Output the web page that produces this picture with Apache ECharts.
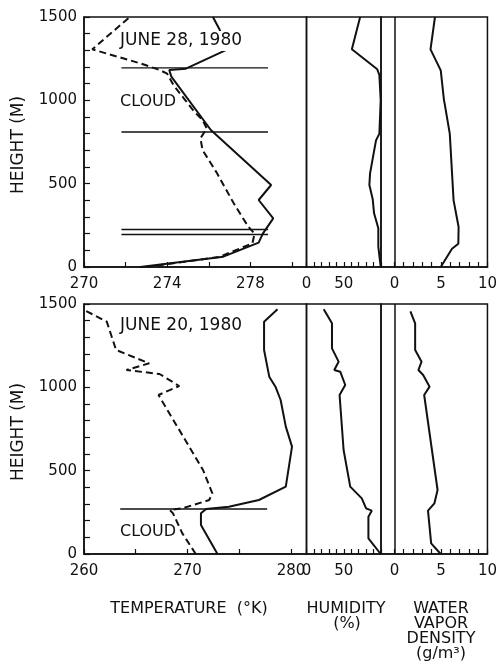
<!DOCTYPE html>
<html>
<head>
<meta charset="utf-8">
<script src="https://cdn.jsdelivr.net/npm/echarts@6/dist/echarts.min.js"></script>
<style>html,body{margin:0;padding:0;background:#fff}#c{width:500px;height:668px}</style>
</head>
<body>
<div id="c"></div>
<script>
// ---------- DATA ----------
// June 28, 1980 (top panel)
const jun28TempH   = [0, 62, 146, 200, 292, 402, 492, 822, 1142, 1182, 1190, 1306, 1430, 1500];
const jun28Temp    = [272.7, 276.7, 278.4, 278.6, 279.1, 278.4, 279.0, 276.1, 274.2, 274.1, 274.9, 276.9, 276.5, 276.2];
const jun28DewH    = [0, 60, 142, 200, 242, 382, 562, 702, 772, 832, 882, 932, 1012, 1092, 1160, 1184, 1222, 1306, 1500];
const jun28Dew     = [273.0, 276.5, 278.1, 278.2, 277.9, 277.2, 276.4, 275.7, 275.6, 275.9, 275.7, 275.3, 274.8, 274.3, 274.0, 273.6, 272.7, 270.4, 272.2];
const jun28RhH     = [0, 122, 232, 322, 406, 492, 562, 760, 800, 1000, 1152, 1186, 1306, 1500];
const jun28Rh      = [99.6, 96.4, 96.4, 90.7, 88.9, 84.4, 85.3, 93.3, 97.8, 99.6, 97.8, 95.0, 60.9, 72.0];
const jun28WvH     = [0, 110, 140, 240, 400, 800, 980, 1000, 1180, 1306, 1500];
const jun28Wv      = [4.98, 6.19, 6.87, 6.9, 6.36, 5.95, 5.4, 5.33, 4.98, 3.88, 4.36];
const jun28Cloud   = [1195, 810, 225, 195];
const jun28CloudX  = [271.8, 278.85];

// June 20, 1980 (bottom panel)
const jun20TempH   = [0, 174, 244, 270, 284, 324, 404, 644, 764, 924, 1004, 1064, 1224, 1394, 1468];
const jun20Temp    = [272.9, 271.3, 271.3, 271.8, 274.0, 276.9, 279.5, 280.1, 279.5, 279.0, 278.5, 277.9, 277.4, 277.4, 278.7];
const jun20DewH    = [0, 124, 244, 264, 274, 324, 364, 504, 954, 1008, 1080, 1104, 1144, 1224, 1394, 1468];
const jun20Dew     = [270.8, 269.5, 268.6, 268.3, 269.5, 272.1, 272.4, 271.5, 267.2, 269.2, 267.3, 264.1, 266.3, 263.1, 262.2, 259.9];
const jun20RhH     = [0, 94, 224, 260, 274, 334, 404, 624, 954, 1014, 1094, 1104, 1154, 1234, 1384, 1468];
const jun20Rh      = [99.6, 83.1, 83.1, 87.6, 80.0, 74.2, 58.7, 49.8, 44.4, 52.0, 45.3, 37.3, 43.1, 34.2, 34.2, 23.1];
const jun20WvH     = [0, 64, 260, 304, 384, 954, 1004, 1074, 1104, 1154, 1224, 1384, 1456];
const jun20Wv      = [4.98, 3.95, 3.61, 4.3, 4.64, 3.2, 3.78, 3.09, 2.58, 2.92, 2.23, 2.23, 1.72];
const jun20Cloud   = [270];
const jun20CloudX  = [263.5, 277.7];

// Tick labels
const heightLabels   = [0, 500, 1000, 1500];
const temp28Labels   = [270, 274, 278];
const temp20Labels   = [260, 270, 280];
const rhLabels       = [0, 50];
const wvLabels       = [0, 5, 10];
const heightTicks    = [0,100,200,300,400,500,600,700,800,900,1000,1100,1200,1300,1400,1500];
const temp28Ticks    = [270, 272, 274, 276, 278, 280];
const temp20Ticks    = [260, 265, 270, 275, 280];
const rhTicks        = [0,10,20,30,40,50,60,70,80,90,100];
const wvTicks        = [0,1,2,3,4,5,6,7,8,9,10];

// ---------- BUILD ----------
const zip = (xs, hs) => xs.map((v, i) => [v, hs[i]]);
const FONT = 'DejaVu Sans';
const BLACK = '#111';

const rowTop = [17, 304];
const rowH = 250;
const grids = [];
rowTop.forEach(t => {
  grids.push({left: 84, top: t, width: 222.5, height: rowH, show: true, borderColor: BLACK, borderWidth: 1.5, containLabel: false});
  grids.push({left: 306.5, top: t, width: 74.5, height: rowH, show: true, borderColor: BLACK, borderWidth: 1.5, containLabel: false});
  grids.push({left: 381, top: t, width: 111, height: rowH, show: true, borderColor: BLACK, borderWidth: 1.5, containLabel: false});
});

function xAx(gi, min, max, ticks, labels) {
  return {
    type: 'value', gridIndex: gi, min: min, max: max,
    axisLine: {show: true, onZero: false, lineStyle: {color: BLACK, width: 1.5}},
    axisTick: {show: true, inside: true, length: 5, customValues: ticks, lineStyle: {color: BLACK, width: 1.2}},
    axisLabel: {show: true, customValues: labels, color: BLACK, fontFamily: FONT, fontSize: 15, margin: 10,
      formatter: v => String(v)},
    splitLine: {show: false}
  };
}
function yAx(gi, withLabels) {
  return {
    type: 'value', gridIndex: gi, min: 0, max: 1500,
    axisLine: {show: withLabels, onZero: false, lineStyle: {color: BLACK, width: 1.5}},
    axisTick: {show: withLabels, inside: true, length: 6, customValues: heightTicks, lineStyle: {color: BLACK, width: 1.2}},
    axisLabel: {show: withLabels, customValues: heightLabels, color: BLACK, fontFamily: FONT, fontSize: 15, margin: 7,
      formatter: v => String(v)},
    splitLine: {show: false}
  };
}

const xAxes = [
  xAx(0, 270, 280.7, temp28Ticks, temp28Labels),
  xAx(1, 0, 100, rhTicks, rhLabels),
  xAx(2, -1.44, 10, wvTicks, wvLabels),
  xAx(3, 260, 281.5, temp20Ticks, temp20Labels),
  xAx(4, 0, 100, rhTicks, rhLabels),
  xAx(5, -1.44, 10, wvTicks, wvLabels)
];
const yAxes = [yAx(0, true), yAx(1, false), yAx(2, false), yAx(3, true), yAx(4, false), yAx(5, false)];

function line(idx, data, dashed, w) {
  return {
    type: 'line', xAxisIndex: idx, yAxisIndex: idx, data: data,
    showSymbol: false, symbol: 'none', silent: true, animation: false,
    lineStyle: {color: BLACK, width: w || 2, type: dashed ? [7, 4] : 'solid'},
    z: 3
  };
}
function zeroLine(idx) {
  return {
    type: 'line', xAxisIndex: idx, yAxisIndex: idx, data: [], animation: false,
    markLine: {silent: true, symbol: 'none', label: {show: false},
      lineStyle: {color: BLACK, width: 1.5, type: 'solid'}, data: [{xAxis: 0}]}
  };
}
const series = [
  line(0, zip(jun28Temp, jun28TempH), false),
  line(0, zip(jun28Dew, jun28DewH), true),
  line(1, zip(jun28Rh, jun28RhH), false),
  line(2, zip(jun28Wv, jun28WvH), false),
  zeroLine(2),
  line(3, zip(jun20Temp, jun20TempH), false),
  line(3, zip(jun20Dew, jun20DewH), true),
  line(4, zip(jun20Rh, jun20RhH), false),
  line(5, zip(jun20Wv, jun20WvH), false),
  zeroLine(5)
];
jun28Cloud.forEach(h => series.push(line(0, jun28CloudX.map(x => [x, h]), false, 1.3)));
jun20Cloud.forEach(h => series.push(line(3, jun20CloudX.map(x => [x, h]), false, 1.3)));

function txt(x, y, s, size, align, extra) {
  return Object.assign({
    type: 'text', x: x, y: y, z: 100,
    style: {text: s, fill: BLACK, font: size + 'px "' + FONT + '"', textAlign: align || 'left', textVerticalAlign: 'middle'}
  }, extra || {});
}
const graphic = [
  txt(120, 41, 'JUNE 28, 1980', 17, 'left'),
  txt(120, 102, 'CLOUD', 16, 'left'),
  txt(120, 326, 'JUNE 20, 1980', 17, 'left'),
  txt(120, 532, 'CLOUD', 16, 'left'),
  txt(19, 145, 'HEIGHT (M)', 17, 'center', {rotation: Math.PI / 2}),
  txt(19, 432, 'HEIGHT (M)', 17, 'center', {rotation: Math.PI / 2}),
  txt(189, 609, 'TEMPERATURE  (\u00B0K)', 16, 'center'),
  txt(346, 609, 'HUMIDITY', 16, 'center'),
  txt(347, 624, '(%)', 16, 'center'),
  txt(441, 609, 'WATER', 16, 'center'),
  txt(441, 624, 'VAPOR', 16, 'center'),
  txt(441, 639, 'DENSITY', 16, 'center'),
  txt(441, 654, '(g/m\u00B3)', 16, 'center')
];
// white box behind the June 28 date label (the line passes under it in the original)
graphic.unshift({type: 'rect', z: 99, shape: {x: 118, y: 31, width: 136, height: 20}, style: {fill: '#fff'}});

const chart = echarts.init(document.getElementById('c'), null, {renderer: 'canvas'});
chart.setOption({
  backgroundColor: '#fff',
  animation: false,
  grid: grids,
  xAxis: xAxes,
  yAxis: yAxes,
  series: series,
  graphic: graphic
});
</script>
</body>
</html>
